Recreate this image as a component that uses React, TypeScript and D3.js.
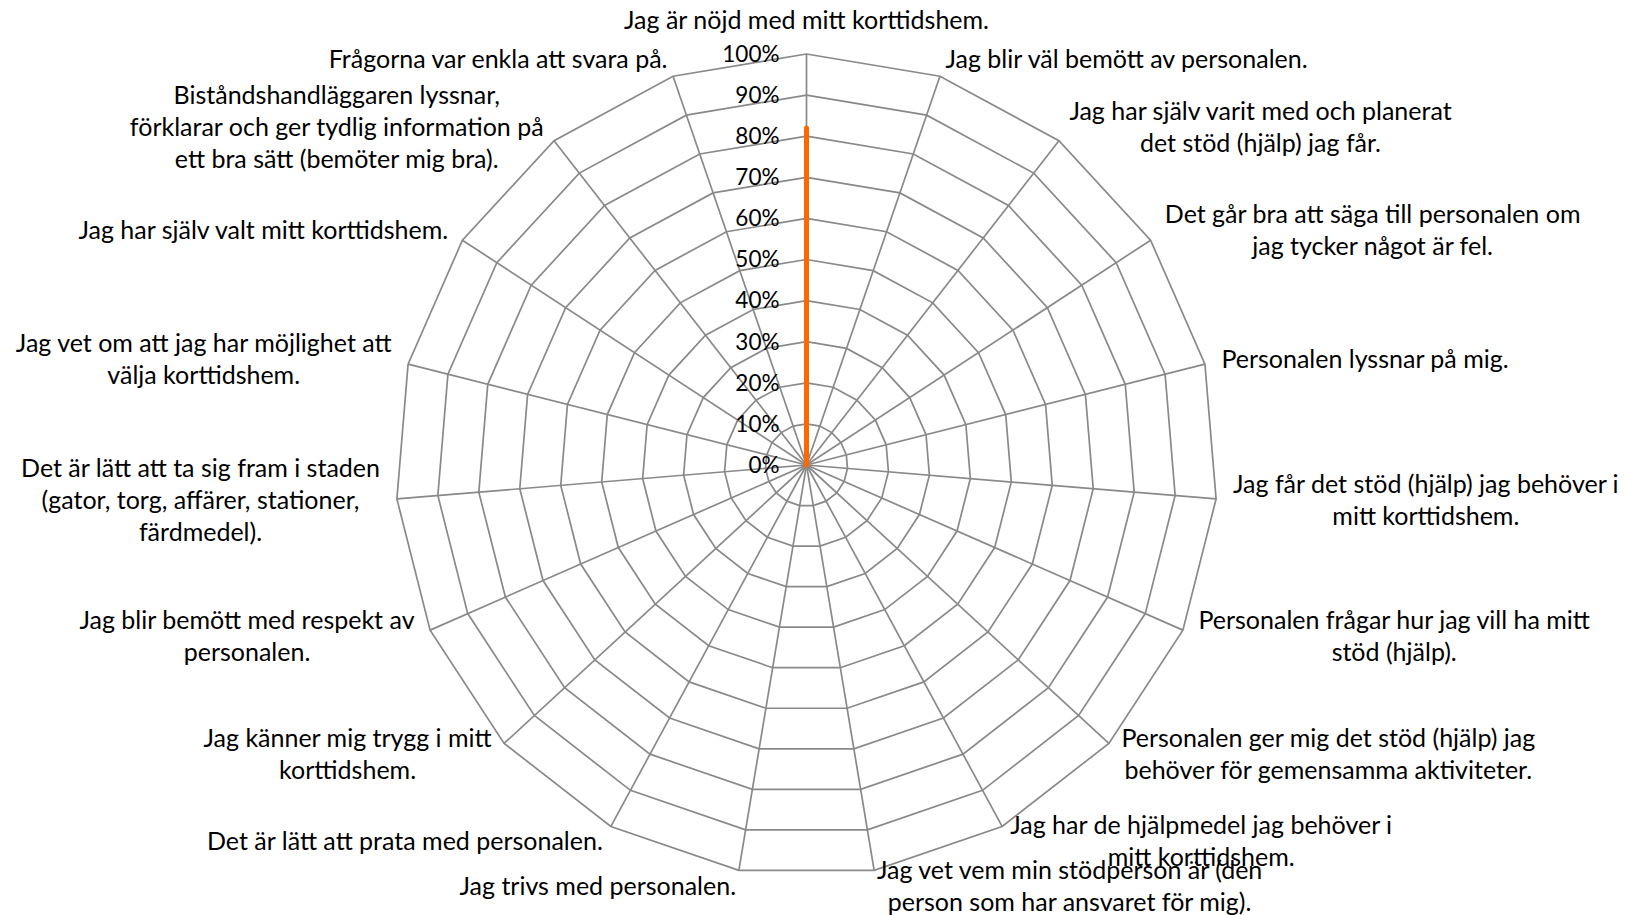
import React from "react";
import * as d3 from "d3";

// one entry per spoke, lines as Excel wraps them
const categories: string[][] = [
  ["Jag är nöjd med mitt korttidshem."],
  ["Jag blir väl bemött av personalen."],
  ["Jag har själv varit med och planerat", "det stöd (hjälp) jag får."],
  ["Det går bra att säga till personalen om", "jag tycker något är fel."],
  ["Personalen lyssnar på mig."],
  ["Jag får det stöd (hjälp) jag behöver i", "mitt korttidshem."],
  ["Personalen frågar hur jag vill ha mitt", "stöd (hjälp)."],
  ["Personalen ger mig det stöd (hjälp) jag", "behöver för gemensamma aktiviteter."],
  ["Jag har de hjälpmedel jag behöver i", "mitt korttidshem."],
  ["Jag vet vem min stödperson är (den", "person som har ansvaret för mig)."],
  ["Jag trivs med personalen."],
  ["Det är lätt att prata med personalen."],
  ["Jag känner mig trygg i mitt", "korttidshem."],
  ["Jag blir bemött med respekt av", "personalen."],
  ["Det är lätt att ta sig fram i staden", "(gator, torg, affärer, stationer,", "färdmedel)."],
  ["Jag vet om att jag har möjlighet att", "välja korttidshem."],
  ["Jag har själv valt mitt korttidshem."],
  ["Biståndshandläggaren lyssnar,", "förklarar och ger tydlig information på", "ett bra sätt (bemöter mig bra)."],
  ["Frågorna var enkla att svara på."],
];

const values = [0.82, 0, 0, 0, 0, 0, 0, 0, 0, 0, 0, 0, 0, 0, 0, 0, 0, 0, 0];

const tickValues = [0, 0.1, 0.2, 0.3, 0.4, 0.5, 0.6, 0.7, 0.8, 0.9, 1];

const width = 1625;
const height = 915;
const cx = 806.5;
const cy = 465;
const radius = 411;
const fontSize = 25;
const tickFontSize = 22.5;
const lineHeight = 32;
const font = "Lato, 'Open Sans', sans-serif";
const gridColor = "#898989";

const App = () => {
  const svgRef = React.useRef<SVGSVGElement>(null);

  React.useEffect(() => {
    const node = svgRef.current;
    if (!node) return;
    while (node.firstChild) node.removeChild(node.lastChild as ChildNode);
    const svg = d3.select(node);

    const n = categories.length;
    const angle = d3.scaleLinear().domain([0, n]).range([0, 2 * Math.PI]);
    const r = d3.scaleLinear().domain([0, 1]).range([0, radius]);
    const pt = (i: number, v: number) => [
      Math.sin(angle(i)) * r(v),
      -Math.cos(angle(i)) * r(v),
    ];

    const g = svg.append("g").attr("transform", `translate(${cx},${cy})`);

    // rings
    g.append("g")
      .selectAll("path")
      .data(tickValues.slice(1))
      .join("path")
      .attr("d", (t) => d3.line()(d3.range(n).map((i) => pt(i, t) as [number, number])) + "Z")
      .attr("fill", "none")
      .attr("stroke", gridColor)
      .attr("stroke-width", 1.7);

    // spokes
    g.append("g")
      .selectAll("line")
      .data(d3.range(n))
      .join("line")
      .attr("x1", 0)
      .attr("y1", 0)
      .attr("x2", (i) => pt(i, 1)[0])
      .attr("y2", (i) => pt(i, 1)[1])
      .attr("stroke", gridColor)
      .attr("stroke-width", 1.7);

    // series
    const radial = d3
      .lineRadial<number>()
      .angle((d, i) => angle(i))
      .radius((d) => r(d))
      .curve(d3.curveLinearClosed);
    g.append("path")
      .attr("d", radial(values))
      .attr("fill", "none")
      .attr("stroke", "#FF6600")
      .attr("stroke-width", 5)
      .attr("stroke-linejoin", "round");

    // tick labels
    g.append("g")
      .selectAll("text")
      .data(tickValues)
      .join("text")
      .attr("x", -27)
      .attr("y", (t) => -r(t))
      .attr("dy", "0.35em")
      .attr("text-anchor", "end")
      .attr("font-family", font)
      .attr("font-size", tickFontSize)
      .attr("fill", "#000")
      .text((t) => d3.format(".0%")(t));

    // category labels
    const pad = 17;
    categories.forEach((lines, i) => {
      const a = angle(i);
      const s = Math.sin(a);
      const c = Math.cos(a);
      const px = s * (radius + pad);
      const py = -c * (radius + pad);
      const grp = g.append("g");
      const texts = grp
        .selectAll("text")
        .data(lines)
        .join("text")
        .attr("text-anchor", "middle")
        .attr("font-family", font)
        .attr("font-size", fontSize)
        .attr("fill", "#000")
        .text((d) => d);
      let w = 0;
      texts.each(function () {
        w = Math.max(w, (this as SVGTextElement).getComputedTextLength());
      });
      const h = lines.length * lineHeight;
      let mx = px;
      if (s > 0.01) mx = px + w / 2;
      else if (s < -0.01) mx = px - w / 2;
      let top = py - h / 2;
      if (Math.abs(s) <= 0.01) top = c > 0 ? py - h : py;
      texts
        .attr("x", mx)
        .attr("y", (d, k) => top + lineHeight * k + lineHeight / 2)
        .attr("dy", "0.33em");
    });
  }, []);

  return (
    <svg
      ref={svgRef}
      width={width}
      height={height}
      style={{ position: "absolute", left: 0, top: 0, background: "#fff" }}
    />
  );
};

export default App;
